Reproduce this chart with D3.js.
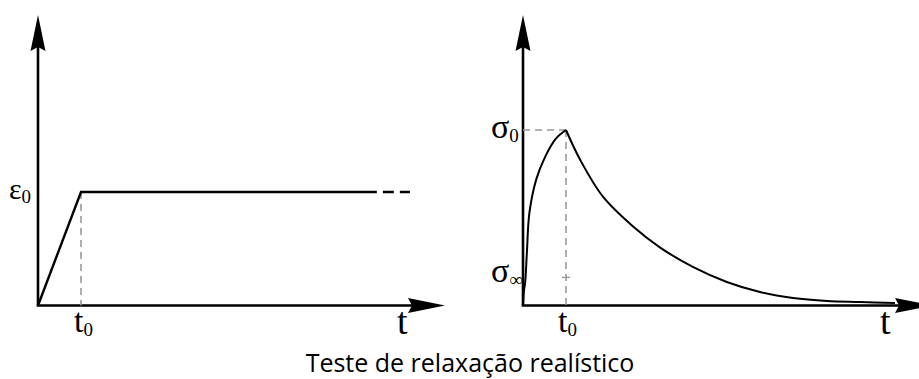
<!DOCTYPE html>
<html>
<head>
<meta charset="utf-8">
<script src="https://cdn.jsdelivr.net/npm/d3@7"></script>
<style>
  html, body { margin: 0; padding: 0; background: #fff; }
  svg { display: block; }
  .sym { font-family: "Liberation Serif", "DejaVu Serif", serif; }
  .title { font-family: "Open Sans", "Noto Sans", sans-serif; }
</style>
</head>
<body>
<svg id="chart" width="919" height="379"></svg>
<script>
// Strain history: linear ramp up to t0, then held at ε0
const strainT = [0, 1, 7.88];
const strainV = [0, 1, 1];
const strainDashT = [7.88, 8.65];   // continuation drawn dashed
// Stress response: rises to σ0 at t0, then relaxes
const stressRiseT = [0, 0.02, 0.05, 0.09, 0.15, 0.31, 0.52, 0.76, 1];
const stressRiseV = [0, 0.08, 0.13, 0.30, 0.53, 0.72, 0.85, 0.95, 1];
const stressRelaxT = [1, 1.33, 1.86, 2.56, 3.19, 3.95, 4.74, 5.51, 6.28, 7.07, 7.84, 8.65];
const stressRelaxV = [1, 0.83, 0.62, 0.45, 0.33, 0.22, 0.134, 0.077, 0.043, 0.026, 0.02, 0.014];
const sigmaInf = 0.16;
const t0 = 1;
const title = "Teste de relaxação realístico";

const svg = d3.select("#chart");
const black = "#000";
const grey = "#999";

// Left panel scales (strain)
const xL = d3.scaleLinear().domain([0, 1]).range([38, 81]);
const yL = d3.scaleLinear().domain([0, 1]).range([305.5, 192]);
// Right panel scales (stress)
const xR = d3.scaleLinear().domain([0, 1]).range([523, 566]);
const yR = d3.scaleLinear().domain([0, 1]).range([305.5, 130]);

function axes(x0, y0, yTop, xTip) {
  const g = svg.append("g");
  g.append("line").attr("x1", x0).attr("y1", y0).attr("x2", x0).attr("y2", yTop + 25)
    .attr("stroke", black).attr("stroke-width", 2.6);
  g.append("line").attr("x1", x0 - 1.3).attr("y1", y0).attr("x2", xTip - 25).attr("y2", y0)
    .attr("stroke", black).attr("stroke-width", 2.6);
  // arrowheads
  g.append("path")
    .attr("d", `M${x0},${yTop} L${x0 + 7.5},${yTop + 36} L${x0},${yTop + 32} L${x0 - 7.5},${yTop + 36} Z`)
    .attr("fill", black);
  g.append("path")
    .attr("d", `M${xTip},${y0} L${xTip - 37},${y0 - 7.5} L${xTip - 33},${y0} L${xTip - 37},${y0 + 7.5} Z`)
    .attr("fill", black);
}

axes(xL(0), yL(0), 15, 445);
axes(xR(0), yR(0), 15, 932);

// Guide lines
const dash = (x1, y1, x2, y2) => svg.append("line")
  .attr("x1", x1).attr("y1", y1).attr("x2", x2).attr("y2", y2)
  .attr("stroke", grey).attr("stroke-width", 1.6).attr("stroke-dasharray", "7,5");
dash(xL(t0), yL(1), xL(t0), yL(0));
dash(xR(0), yR(1), xR(t0), yR(1));
dash(xR(t0), yR(1), xR(t0), yR(0));
svg.append("line").attr("x1", xR(t0) - 4).attr("x2", xR(t0) + 4).attr("y1", yR(sigmaInf)).attr("y2", yR(sigmaInf))
  .attr("stroke", grey).attr("stroke-width", 1.4);

// Strain curve
const lineL = d3.line().x(d => xL(d[0])).y(d => yL(d[1]));
svg.append("path").datum(d3.zip(strainT, strainV)).attr("d", lineL)
  .attr("fill", "none").attr("stroke", black).attr("stroke-width", 2.4);
svg.append("path").datum(strainDashT.map(t => [t, 1])).attr("d", lineL)
  .attr("fill", "none").attr("stroke", black).attr("stroke-width", 2.4)
  .attr("stroke-dasharray", "0,6,11,6,11");

// Stress curve (two smooth branches meeting at the cusp)
const lineR = d3.line().x(d => xR(d[0])).y(d => yR(d[1])).curve(d3.curveCatmullRom.alpha(0.5));
svg.append("path").datum(d3.zip(stressRiseT, stressRiseV)).attr("d", lineR)
  .attr("fill", "none").attr("stroke", black).attr("stroke-width", 2);
svg.append("path").datum(d3.zip(stressRelaxT, stressRelaxV)).attr("d", lineR)
  .attr("fill", "none").attr("stroke", black).attr("stroke-width", 2);

// Symbol labels
function sym(x, y, main, sub, size, subSize) {
  const t = svg.append("text").attr("class", "sym").attr("x", x).attr("y", y)
    .style("font-size", size + "px").attr("fill", black);
  t.append("tspan").text(main);
  if (sub) t.append("tspan").style("font-size", subSize + "px").attr("dy", 4).text(sub);
  return t;
}
sym(9, 199, "ε", "0", 30, 19);
sym(491, 138, "σ", "0", 34, 19);
sym(491, 282, "σ", "∞", 34, 19);
sym(74, 332, "t", "0", 34, 19);
sym(558, 332, "t", "0", 34, 19);
sym(397, 334, "t", null, 38);
sym(880, 334, "t", null, 38);

svg.append("text").attr("class", "title").attr("x", 470).attr("y", 372).attr("text-anchor", "middle")
  .style("font-size", "25px").attr("fill", "#000").text(title);
</script>
</body>
</html>
